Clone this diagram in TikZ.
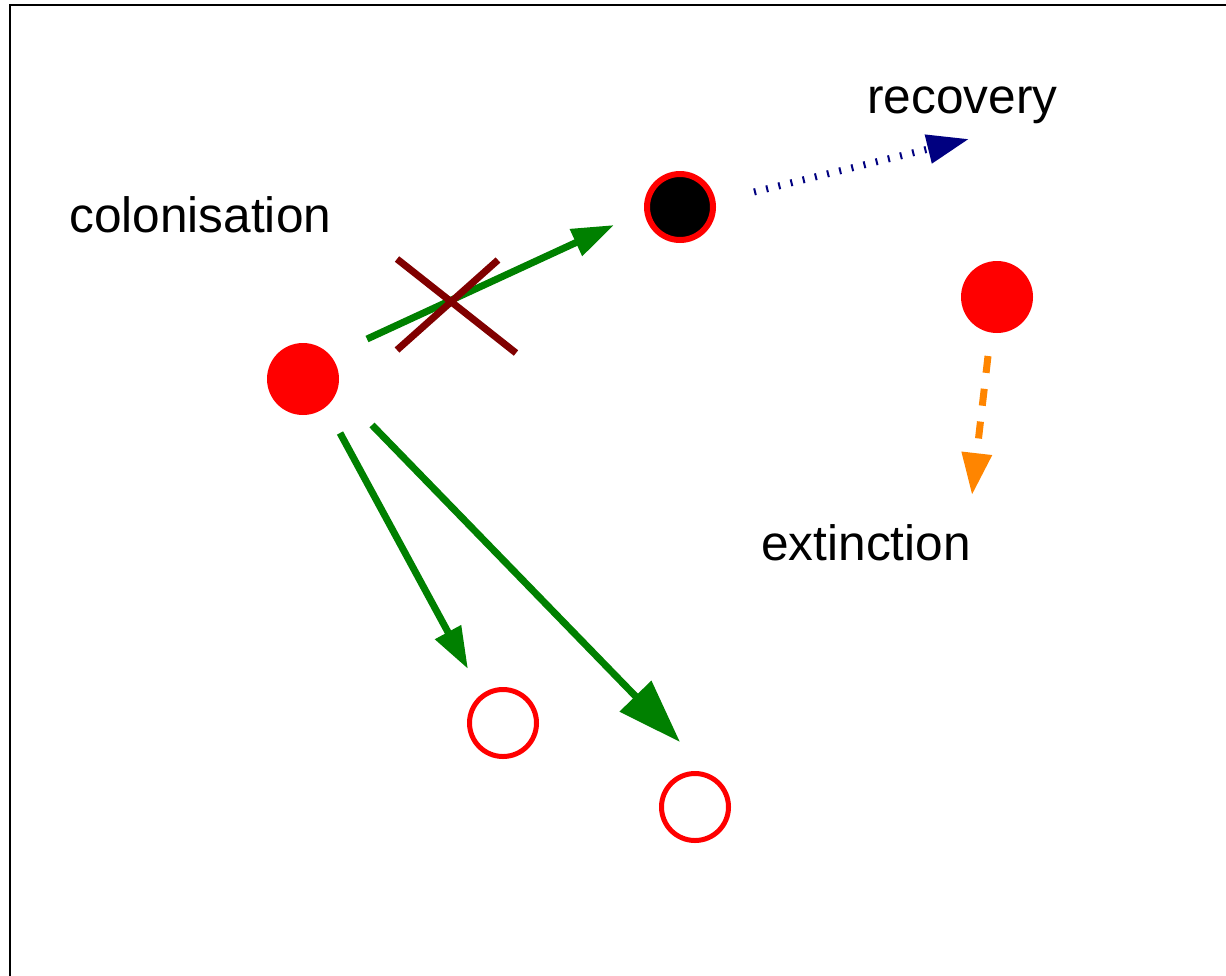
\documentclass[tikz,border=0pt]{standalone}
\usepackage{fontspec}
\setmainfont{Liberation Sans}
\usetikzlibrary{arrows.meta}
\definecolor{fgreen}{RGB}{0,128,0}
\definecolor{crossred}{RGB}{128,0,0}
\definecolor{navyblue}{RGB}{0,0,128}
\definecolor{extorange}{RGB}{255,133,0}
\begin{document}
\begin{tikzpicture}[x=0.75pt,y=-0.75pt,
  label/.style={anchor=base west,inner sep=0pt,font=\fontsize{37.2pt}{44pt}\selectfont},
  filled/.style={circle,fill=red,minimum size=54pt,inner sep=0pt},
  occupied/.style={circle,fill=black,draw=red,line width=4.5pt,minimum size=49.5pt,inner sep=0pt},
  empty/.style={circle,draw=red,line width=3.75pt,minimum size=50.25pt,inner sep=0pt},
  colarrow/.style={draw=fgreen,line width=5.25pt,-{Triangle[length=31.5pt,width=21pt]}},
  bigcolarrow/.style={draw=fgreen,line width=5.25pt,-{Triangle[length=48pt,width=32pt]}},
  crossline/.style={draw=crossred,line width=5.25pt},
  recarrow/.style={draw=navyblue,line width=5.25pt,dash pattern=on 1.5pt off 7.9pt,-{Triangle[length=31.5pt,width=21pt]}},
  extarrow/.style={draw=extorange,line width=5.25pt,dash pattern=on 12.75pt off 12pt,-{Triangle[length=31.5pt,width=21.75pt]}}]
\useasboundingbox (0,0) rectangle (1226,975);
\clip (0,0) rectangle (1226,975);
% frame
\draw[line width=1.5pt] (10,5) rectangle (1260,1010);

% patches
\node[filled]   (src)  at (303,379) {};
\node[occupied] (occ)  at (680,207) {};
\node[filled]   (dying) at (997,297) {};
\node[empty]    (e1)   at (503,723) {};
\node[empty]    (e2)   at (695,807) {};

% labels
\node[label] (lcol) at (69,232) {colonisation};
\node[label] (lrec) at (867,113) {recovery};
\node[label] (lext) at (761,560) {extinction};

% arrow end points
\coordinate (c1s) at (367,339);
\coordinate (c1t) at (614,225);
\coordinate (c2s) at (340,433);
\coordinate (c2t) at (468,669);
\coordinate (c3s) at (372,425);
\coordinate (c3t) at (680,742);
\coordinate (rs) at (754,192);
\coordinate (rt) at (969,139);
\coordinate (xs) at (988,356);
\coordinate (xt) at (972,495);
\coordinate (k1a) at (397,259);
\coordinate (k1b) at (516,353);
\coordinate (k2a) at (397,350);
\coordinate (k2b) at (498,260);

% colonisation
\draw[colarrow] (c1s) -- (c1t);
\draw[colarrow] (c2s) -- (c2t);
\draw[bigcolarrow] (c3s) -- (c3t);
% blocked colonisation
\draw[crossline] (k1a) -- (k1b);
\draw[crossline] (k2a) -- (k2b);
% recovery
\draw[recarrow] (rs) -- (rt);
% extinction
\draw[extarrow] (xs) -- (xt);
\end{tikzpicture}
\end{document}
